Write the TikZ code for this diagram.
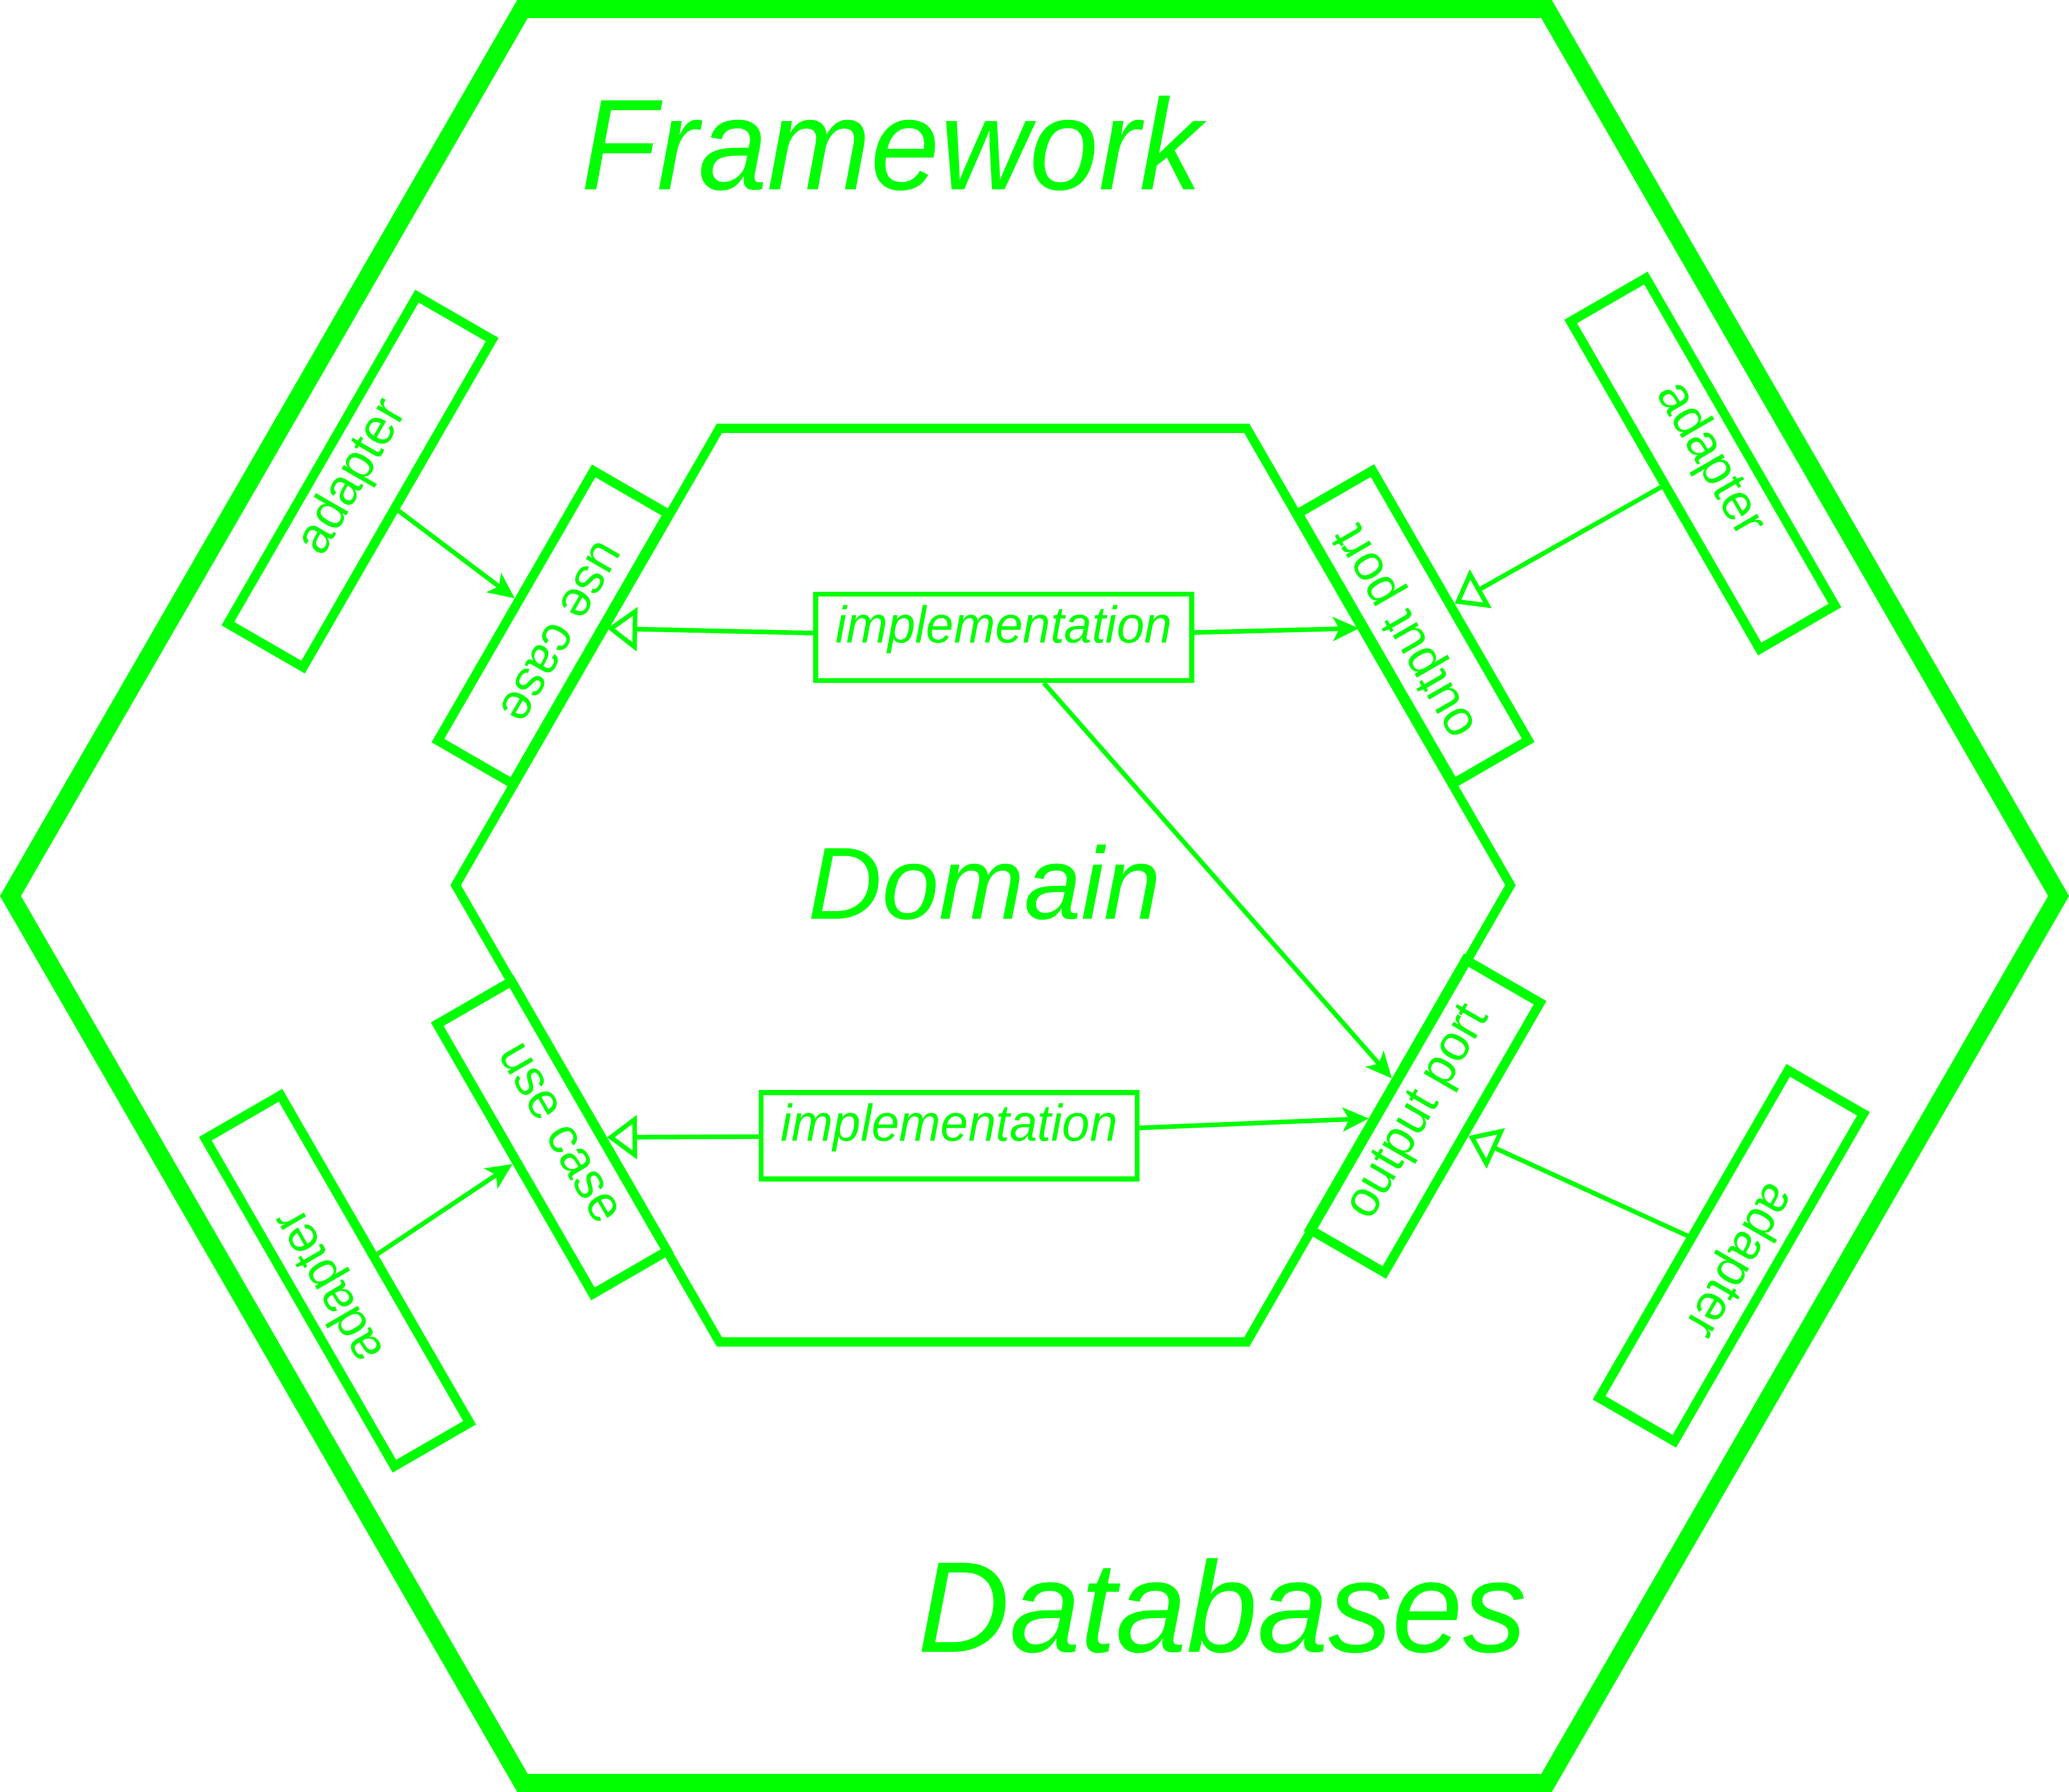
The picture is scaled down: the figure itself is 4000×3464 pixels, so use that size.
\documentclass[tikz,border=0pt]{standalone}
\usepackage{fontspec}
\setmainfont{Liberation Sans}
\usetikzlibrary{arrows.meta}
\definecolor{hexgreen}{HTML}{00FF00}
\newcommand\lblfont{\fontsize{25pt}{30pt}\selectfont}
\newcommand\ttlfont{\fontsize{62.5pt}{70pt}\selectfont}
\newcommand\domfont{\fontsize{49.5pt}{56pt}\selectfont}
\newcommand\narrow[2][0.96]{\scalebox{#1}[1]{#2}}
\begin{document}
\begin{tikzpicture}[x=0.25pt,y=-0.25pt,
  outerhex/.style={draw=hexgreen, line width=8.75pt, line join=miter},
  innerhex/.style={draw=hexgreen, line width=4.4pt, line join=miter},
  portbox/.style={draw=hexgreen, line width=4.5pt, minimum width=150.5pt, minimum height=41.5pt,
    inner sep=0pt, text=hexgreen, font=\lblfont, text height=0.72em, text depth=0.21em},
  adapterbox/.style={portbox, minimum width=182.75pt, minimum height=42pt},
  implbox/.style={draw=hexgreen, line width=2.4pt, minimum width=181.75pt, minimum height=41.75pt,
    inner sep=0pt, text=hexgreen, font=\lblfont\itshape, text height=0.72em, text depth=0.21em},
  uses/.style={draw=hexgreen, line width=2.2pt, -{Stealth[length=12.5pt,width=11.5pt,inset=3pt]}},
  realizes/.style={draw=hexgreen, line width=2.2pt, -{Triangle[open,length=14.5pt,width=21pt]}},
  title/.style={text=hexgreen, font=\ttlfont\itshape, inner sep=0pt, anchor=base},
]
\useasboundingbox (0,0) rectangle (4000,3464);
% hexagons
\draw[outerhex] (1010.1,17.5) -- (2989.9,17.5) -- (3979.8,1732) -- (2989.9,3446.5)
  -- (1010.1,3446.5) -- (20.2,1732) -- cycle;
\draw[innerhex] (1390.8,828) -- (2410.4,828) -- (2920.2,1711) -- (2410.4,2594)
  -- (1390.8,2594) -- (880.9,1711) -- cycle;
% titles
\node[title] (fw) at (1724,366.7) {\narrow{Framework}};
\node[title, font=\domfont\itshape] (dom) at (1904,1776) {\narrow[1]{Domain}};
\node[title] (db) at (2363,3193.3) {\narrow[0.985]{Databases}};
% boxes
\node[implbox] (impl1) at (1940.5,1232) {\narrow{implementation}};
\node[implbox] (impl2) at (1835,2195.5) {\narrow{implementation}};
\node[portbox, rotate=240] (uc1) at (1069,1212.4) {\narrow{use case}};
\node[portbox, rotate=-60] (uc2) at (1067.6,2199) {\narrow{use case}};
\node[portbox, rotate=120] (op1) at (2732,1211.8) {\narrow{output port}};
\node[portbox, rotate=60] (op2) at (2755,2157.5) {\narrow{output port}};
\node[adapterbox, rotate=60] (ad1) at (696,931) {\narrow{adapter}};
\node[adapterbox, rotate=-60] (ad2) at (3292,896) {\narrow{adapter}};
\node[adapterbox, rotate=120] (ad3) at (652.4,2475.7) {\narrow{adapter}};
\node[adapterbox, rotate=240] (ad4) at (3347,2427.5) {\narrow{adapter}};
% connectors
\draw[uses] (ad1) -- (uc1);
\draw[uses] (ad3) -- (uc2);
\draw[realizes] (ad2) -- (op1);
\draw[realizes] (ad4) -- (op2);
\draw[realizes] (impl1) -- (uc1);
\draw[uses] (impl1) -- (op1);
\draw[uses] (impl1) -- (op2);
\draw[realizes] (impl2) -- (uc2);
\draw[uses] (impl2) -- (op2);
\end{tikzpicture}
\end{document}
